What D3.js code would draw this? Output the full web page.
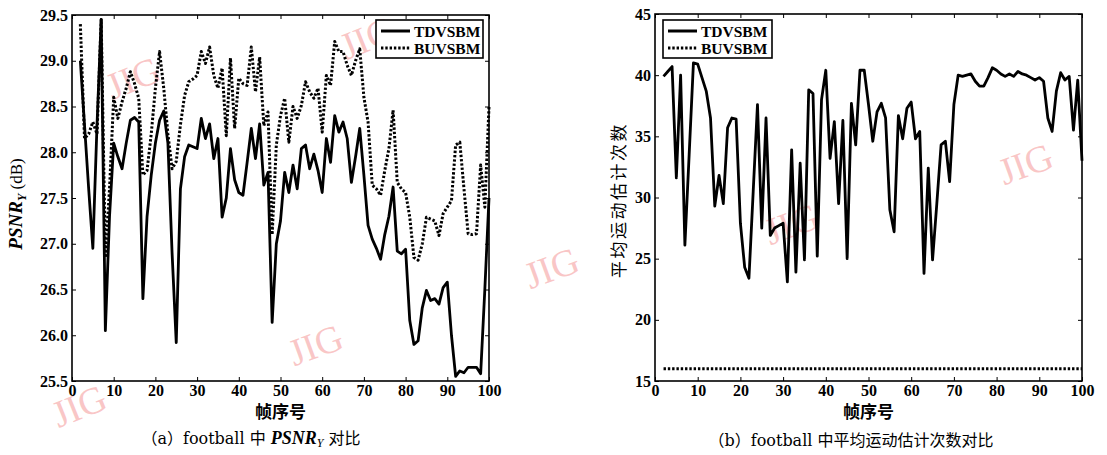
<!DOCTYPE html>
<html><head><meta charset="utf-8">
<script src="https://cdn.jsdelivr.net/npm/d3@7"></script>
<style>body{margin:0;background:#fff}svg{display:block}</style>
</head><body><svg id="c" width="1107" height="455"></svg>
<script>
// ---------------- data ----------------
const frames = [2,3,4,5,6,7,8,9,10,11,12,13,14,15,16,17,18,19,20,21,22,23,24,25,26,27,28,29,30,31,32,33,34,35,36,37,38,39,40,41,42,43,44,45,46,47,48,49,50,51,52,53,54,55,56,57,58,59,60,61,62,63,64,65,66,67,68,69,70,71,72,73,74,75,76,77,78,79,80,81,82,83,84,85,86,87,88,89,90,91,92,93,94,95,96,97,98,99,100];
const seriesNames = ["TDVSBM", "BUVSBM"];
const xTicks = [0,10,20,30,40,50,60,70,80,90,100];
const psnrTicks = [25.5,26.0,26.5,27.0,27.5,28.0,28.5,29.0,29.5];
const countTicks = [15,20,25,30,35,40,45];

const psnrTD = [29.0,28.3,27.6,26.95,28.3,29.45,26.05,27.3,28.1,27.95,27.82,28.1,28.35,28.38,28.33,26.4,27.3,27.75,28.1,28.35,28.45,28.1,26.9,25.92,27.6,27.95,28.08,28.06,28.04,28.37,28.15,28.31,27.93,28.15,27.29,27.5,28.04,27.7,27.56,27.53,27.89,28.26,27.93,28.31,27.64,27.78,26.14,27.0,27.25,27.78,27.56,27.86,27.6,28.04,28.08,27.82,27.98,27.8,27.56,28.15,27.89,28.4,28.22,28.33,28.15,27.67,27.95,28.26,27.75,27.2,27.05,26.95,26.83,27.1,27.3,27.62,26.92,26.89,26.94,26.16,25.9,25.94,26.3,26.49,26.38,26.4,26.34,26.52,26.58,26.0,25.55,25.61,25.59,25.65,25.65,25.65,25.58,26.5,27.5];
const psnrBU = [29.4,28.15,28.2,28.33,28.2,29.45,26.85,27.6,28.6,28.37,28.55,28.7,28.88,28.75,28.59,27.75,27.8,28.2,28.7,29.1,28.7,28.2,27.82,27.9,28.3,28.62,28.77,28.8,28.84,29.1,28.97,29.15,28.84,28.7,28.92,28.18,29.03,28.26,28.81,28.75,28.73,29.15,28.66,29.04,28.29,28.44,27.1,28.08,28.4,28.59,28.11,28.5,28.37,28.51,28.77,28.66,28.59,28.7,28.22,28.84,28.73,29.21,29.1,29.1,28.95,28.84,29.0,29.13,28.6,28.33,27.64,27.6,27.53,27.8,28.04,28.46,27.67,27.6,27.56,27.29,26.85,26.82,27.0,27.29,27.27,27.25,27.09,27.33,27.4,27.47,28.08,28.11,27.6,27.11,27.1,27.11,27.86,27.4,28.5];
const countTD = [39.9,40.3,40.7,31.6,40.0,26.1,33.5,41.0,40.9,39.8,38.7,36.5,29.3,31.8,29.5,35.7,36.5,36.4,27.9,24.3,23.4,30.5,37.6,27.5,36.5,26.9,27.5,27.7,27.9,23.1,33.9,23.9,32.8,24.9,38.8,38.5,25.2,38.0,40.4,33.2,36.2,29.5,36.3,25.0,37.7,34.3,40.4,40.4,37.6,34.6,37.0,37.7,36.5,29.0,27.2,36.7,34.8,37.3,37.8,34.8,35.4,23.8,32.4,24.9,29.5,34.3,34.6,31.3,37.6,40.0,39.9,40.0,40.1,39.5,39.1,39.1,39.8,40.6,40.4,40.1,39.9,40.1,39.9,40.3,40.1,40.0,39.8,39.6,39.8,39.5,36.5,35.4,38.7,40.2,39.6,39.9,35.5,39.6,33.0];
const countBU = [16,16,16,16,16,16,16,16,16,16,16,16,16,16,16,16,16,16,16,16,16,16,16,16,16,16,16,16,16,16,16,16,16,16,16,16,16,16,16,16,16,16,16,16,16,16,16,16,16,16,16,16,16,16,16,16,16,16,16,16,16,16,16,16,16,16,16,16,16,16,16,16,16,16,16,16,16,16,16,16,16,16,16,16,16,16,16,16,16,16,16,16,16,16,16,16,16,16,16];

// ---------------- drawing ----------------
const svg = d3.select("#c");
svg.append("rect").attr("width",1107).attr("height",455).attr("fill","#fff");
const SERIF = "'Liberation Serif','Times New Roman',serif";

// watermarks
const wm = svg.append("g").attr("fill","#f7b3b3").attr("fill-opacity",0.75)
  .attr("font-family",SERIF).attr("font-size",38);
[[138,90,-22],[372,50,-22],[320,357,-20],[556,280,-20],[796,236,-20],[1030,176,-20],[84,418,-22]].forEach(p=>{
  wm.append("text").attr("transform",`translate(${p[0]},${p[1]}) rotate(${p[2]})`)
    .attr("text-anchor","middle").text("JIG");
});

function panel(cfg){
  const x = d3.scaleLinear().domain([0,100]).range([cfg.x0,cfg.x1]);
  const y = d3.scaleLinear().domain(cfg.yDomain).range([cfg.y1,cfg.y0]);
  const g = svg.append("g");
  const ax = g.append("g").attr("transform",`translate(0,${cfg.y1})`)
    .call(d3.axisBottom(x).tickValues(xTicks).tickSizeInner(-4).tickSizeOuter(0).tickPadding(4).tickFormat(d3.format("d")));
  const ay = g.append("g").attr("transform",`translate(${cfg.x0},0)`)
    .call(d3.axisLeft(y).tickValues(cfg.yTicks).tickSizeInner(-4).tickSizeOuter(0).tickPadding(4).tickFormat(cfg.fmt));
  const at = g.append("g").attr("transform",`translate(0,${cfg.y0})`)
    .call(d3.axisTop(x).tickValues(xTicks).tickSizeInner(-4).tickSizeOuter(0).tickFormat(""));
  const ar = g.append("g").attr("transform",`translate(${cfg.x1},0)`)
    .call(d3.axisRight(y).tickValues(cfg.yTicks).tickSizeInner(-4).tickSizeOuter(0).tickFormat(""));
  [ax,ay,at,ar].forEach(a=>{
    a.selectAll("path.domain").remove();
    a.selectAll("line").attr("stroke","#000").attr("stroke-width",1);
    a.selectAll("text").attr("font-family",SERIF).attr("font-size",16).attr("font-weight","bold").attr("fill","#000");
  });
  const line = d3.line().x(d=>x(d.f)).y(d=>y(d.v));
  const td = frames.map((f,i)=>({f, v: cfg.td[i]}));
  const bu = frames.map((f,i)=>({f, v: cfg.bu[i]}));
  g.append("path").datum(bu).attr("d",line).attr("fill","none").attr("stroke","#000")
    .attr("stroke-width",3).attr("stroke-dasharray","2.4,1.9").attr("stroke-linejoin","round");
  g.append("path").datum(td).attr("d",line).attr("fill","none").attr("stroke","#000")
    .attr("stroke-width",2.8).attr("stroke-linejoin","round");
  g.append("rect").attr("x",cfg.x0).attr("y",cfg.y0).attr("width",cfg.x1-cfg.x0).attr("height",cfg.y1-cfg.y0)
    .attr("fill","none").attr("stroke","#000").attr("stroke-width",1.6);
  const L = cfg.legend;
  const lg = g.append("g");
  lg.append("rect").attr("x",L.x).attr("y",L.y).attr("width",L.w).attr("height",38)
    .attr("fill","#fff").attr("stroke","#000").attr("stroke-width",1.6);
  seriesNames.forEach((name,i)=>{
    const yy = L.y + 11 + i*17;
    const l = lg.append("line").attr("x1",L.x+5).attr("x2",L.x+34).attr("y1",yy).attr("y2",yy)
      .attr("stroke","#000").attr("stroke-width",3);
    if(i===1) l.attr("stroke-dasharray","2.4,1.9");
    lg.append("text").attr("x",L.x+38).attr("y",yy+5.5).attr("font-family",SERIF)
      .attr("font-size",15.5).attr("font-weight","bold").text(name);
  });
  g.append("text").attr("x",(cfg.x0+cfg.x1)/2).attr("y",418).attr("text-anchor","middle")
    .attr("font-family","'Noto Sans CJK SC',sans-serif").attr("font-size",17).attr("font-weight","bold").text("帧序号");
  return {x,y,g};
}

panel({x0:72,x1:489,y0:15,y1:381,yDomain:[25.5,29.5],yTicks:psnrTicks,fmt:d3.format(".1f"),
  td:psnrTD,bu:psnrBU,legend:{x:376,y:20,w:107}});
panel({x0:655,x1:1082,y0:14,y1:381,yDomain:[15,45],yTicks:countTicks,fmt:d3.format("d"),
  td:countTD,bu:countBU,legend:{x:663,y:20,w:109}});

const yl = svg.append("text").attr("transform","translate(22,204) rotate(-90)").attr("text-anchor","middle")
  .attr("font-family",SERIF).attr("font-weight","bold").attr("font-size",19);
yl.append("tspan").attr("font-style","italic").text("PSNR");
yl.append("tspan").attr("font-style","italic").attr("font-size",12).attr("dy",4).text("Y");
yl.append("tspan").attr("font-size",17).attr("dy",-4).attr("font-weight","normal").text(" (dB)");

svg.append("text").attr("transform","translate(625,200) rotate(-90)").attr("text-anchor","middle")
  .attr("font-family","'Noto Sans CJK SC',sans-serif").attr("font-size",17).attr("letter-spacing",2.5)
  .text("平均运动估计次数");

const c1 = svg.append("text").attr("x",251).attr("y",444).attr("text-anchor","middle")
  .attr("font-family","'DejaVu Serif','Noto Sans CJK SC',serif").attr("font-size",16);
c1.append("tspan").text("（a）football 中 ");
c1.append("tspan").attr("font-family",SERIF).attr("font-style","italic").attr("font-weight","bold").attr("font-size",18).text("PSNR");
c1.append("tspan").attr("font-family",SERIF).attr("font-style","italic").attr("font-size",12).attr("dy",3).text("Y");
c1.append("tspan").attr("dy",-3).text(" 对比");

svg.append("text").attr("x",851).attr("y",446).attr("text-anchor","middle")
  .attr("font-family","'DejaVu Serif','Noto Sans CJK SC',serif").attr("font-size",16)
  .text("（b）football 中平均运动估计次数对比");
</script>
</body></html>
